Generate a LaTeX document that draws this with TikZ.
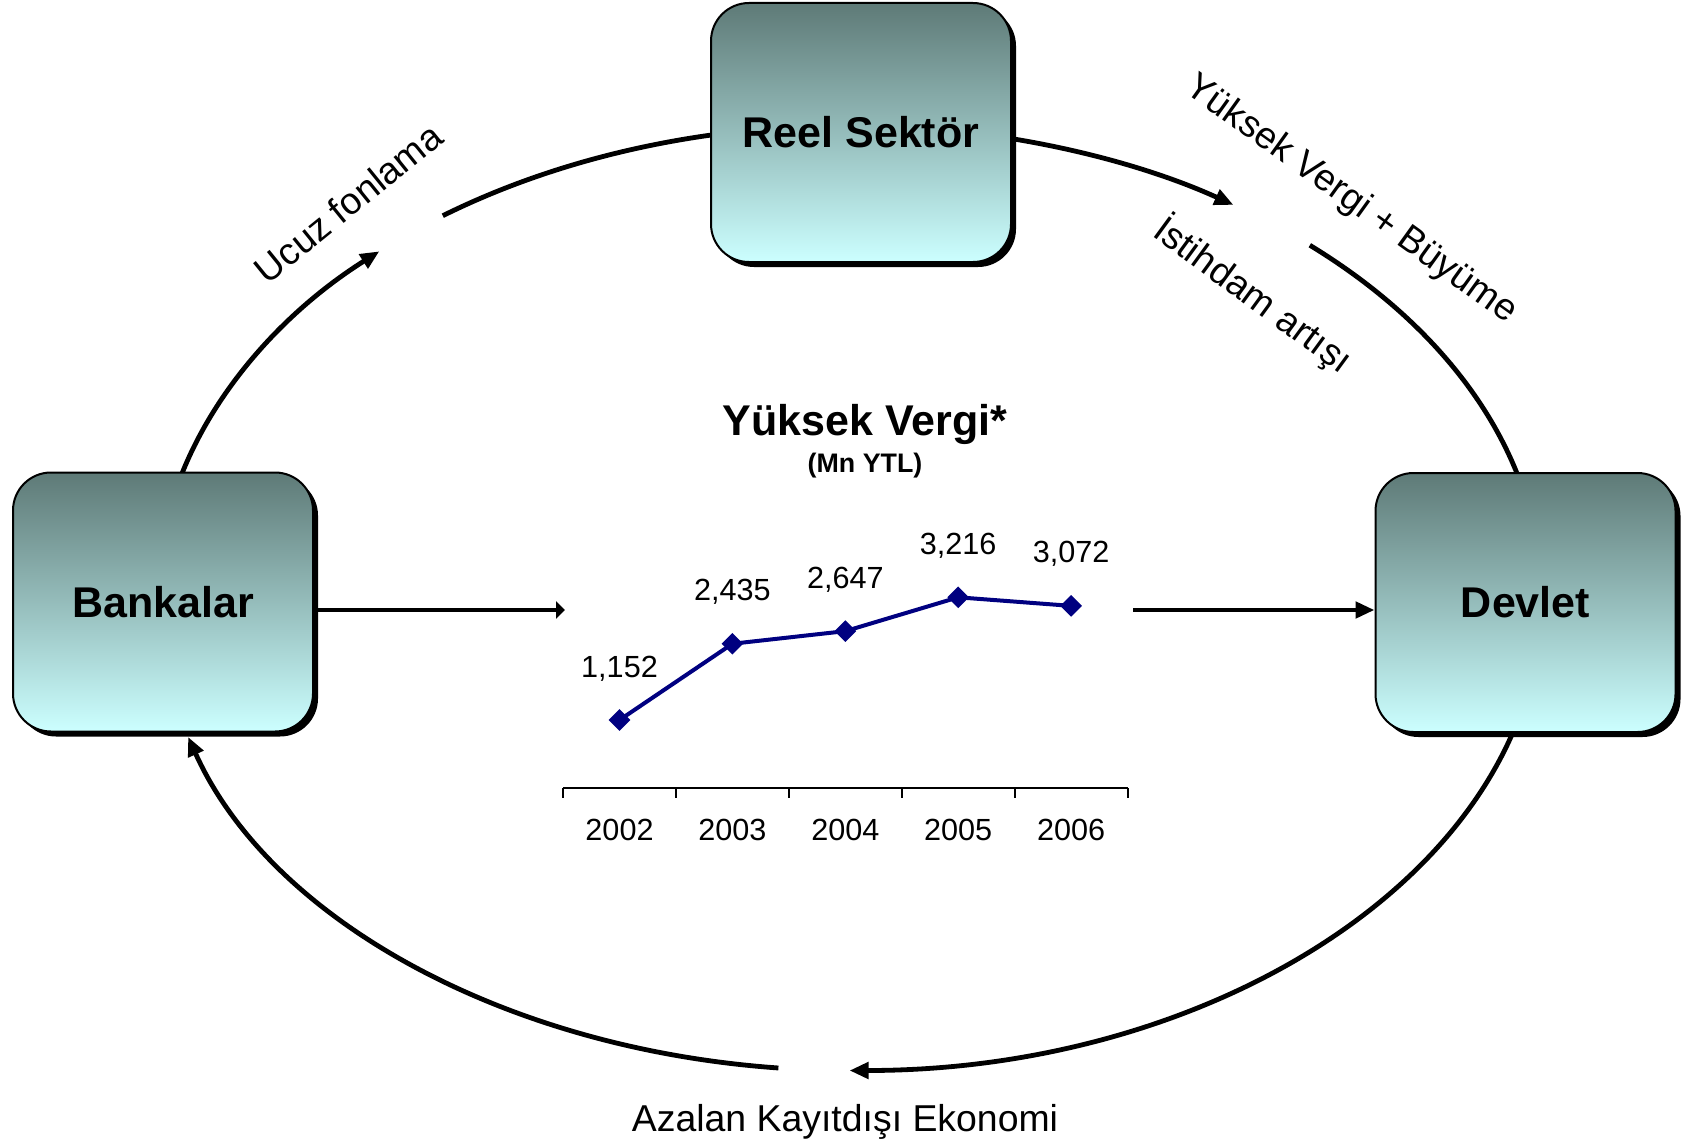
\documentclass[tikz,border=0pt]{standalone}
\usepackage{fontspec}
\setmainfont{Liberation Sans}
\usetikzlibrary{arrows.meta,
	shapes.geometric,
	shadows,
	backgrounds,
	calc}
\definecolor{boxtop}{RGB}{94,122,119}
\definecolor{boxbot}{RGB}{204,255,255}
\definecolor{navyline}{RGB}{0,0,128}
\tikzstyle{box}=[draw, line width=1pt, rounded corners=19pt, minimum width=150pt,
		minimum height=129.5pt, top color=boxtop, bottom color=boxbot,
		font=\fontsize{21.5}{25}\selectfont\bfseries,
		drop shadow={shadow xshift=2.5pt, shadow yshift=-2.5pt, fill=black, opacity=1}]
\tikzstyle{conn}=[line width=2.4pt, -{Triangle[length=9.5pt, width=8pt]}]
\tikzstyle{arcline}=[line width=2.4pt]
\tikzstyle{lbl}=[font=\fontsize{18.7}{22}\selectfont, inner sep=0]
\tikzstyle{num}=[font=\fontsize{15.3}{18}\selectfont, inner sep=0, anchor=base]
\tikzstyle{pt}=[diamond, fill=navyline, inner sep=0, minimum size=11pt]

\begin{document}
\begin{tikzpicture}[x=0.5pt, y=0.5pt]
        \useasboundingbox (0,0) rectangle (1684,-1139);
        \node[box] (reel) at (861,-132.5) {Reel Sektör};
        \node[box] (bank) at (163,-602) {Bankalar};
        \node[box] (dev) at (1525.5,-602.5) {Devlet};
        \coordinate (mid) at (849.5,-598);
        % the cycle round the chart
        \begin{scope}[on background layer]
            \draw[conn] ([shift={(164.7:692 and 472.5)}]mid) arc[start angle=164.7, end angle=132.8, x radius=692, y radius=472.5];
            \draw[arcline] ([shift={(126:692 and 472.5)}]mid) arc[start angle=126, end angle=100, x radius=692, y radius=472.5];
            \draw[conn] ([shift={(80:692 and 472.5)}]mid) arc[start angle=80, end angle=56.3, x radius=692, y radius=472.5];
            \draw[arcline] ([shift={(48.3:692 and 472.5)}]mid) arc[start angle=48.3, end angle=13, x radius=692, y radius=472.5];
            \draw[conn] ([shift={(-15:692 and 472.5)}]mid) arc[start angle=-15, end angle=-90, x radius=692, y radius=472.5];
            \draw[conn] ([shift={(264.1:692 and 472.5)}]mid) arc[start angle=264.1, end angle=197.1, x radius=692, y radius=472.5];
        \end{scope}
        \node[lbl, rotate=39] (ucuz) at (348,-203) {Ucuz fonlama};
        \node[lbl, rotate=-35.7] (buyume) at (1351,-200) {Yüksek Vergi + Büyüme};
        \node[lbl, rotate=-36.2] (istihdam) at (1253,-295) {İstihdam artışı};
        \node[lbl, anchor=base] (kayitdisi) at (845,-1131) {Azalan Kayıtdışı Ekonomi};
        % chart
        \coordinate (chartL) at (565,-610);
        \coordinate (chartR) at (1133,-610);
        \draw[conn, -{Triangle[length=4.5pt, width=8.5pt]}] (chartL -| bank.east) -- (chartL);
        \draw[conn] (chartR) -- (chartR -| dev.west);
        \node[font=\fontsize{21.5}{25}\selectfont\bfseries, anchor=base] (title) at (865,-435) {Yüksek Vergi*};
        \node[font=\fontsize{13.4}{16}\selectfont\bfseries, anchor=base] (unit) at (865,-472) {(Mn YTL)};
        \draw[line width=1pt] (563,-788) -- (1127.5,-788);
        \foreach \k in {0,...,5}
            \draw[line width=1pt] (563+\k*112.9,-788) -- ++(0,-10);
        \foreach \yr/\v/\txt [count=\i from 0] in {2002/1152/{1,152}, 2003/2435/{2,435},
                2004/2647/{2,647}, 2005/3216/{3,216}, 2006/3072/{3,072}} {
            \coordinate (p\i) at (619.5+\i*112.9, -788.5+\v*0.05945);
            \node[num] (yr\i) at (619.5+\i*112.9, -840) {\yr};
            \node[num] (val\i) at ([yshift=21.5pt]p\i) {\txt};
        }
        \draw[navyline, line width=2pt] (p0) -- (p1) -- (p2) -- (p3) -- (p4);
        \foreach \i in {0,...,4}
            \node[pt] (mk\i) at (p\i) {};
    \end{tikzpicture}
\end{document}
